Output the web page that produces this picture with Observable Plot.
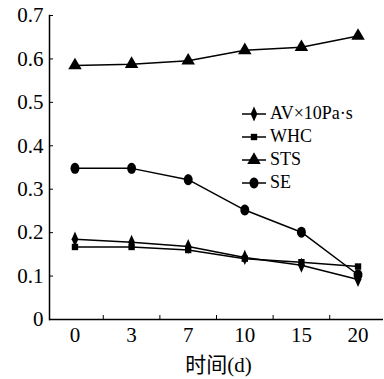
<!DOCTYPE html>
<html>
<head>
<meta charset="utf-8">
<script src="https://cdn.jsdelivr.net/npm/d3@7"></script>
<script src="https://cdn.jsdelivr.net/npm/@observablehq/plot@0.6"></script>
<style>
  html, body { margin: 0; padding: 0; background: #fff; }
  #wrap { position: relative; width: 384px; height: 379px; font-family: "Liberation Serif", "Times New Roman", Tinos, "DejaVu Serif", serif; }
  #legend { position: absolute; left: 242px; top: 102px; font-size: 18px; color: #000; }
  .row { display: flex; align-items: center; height: 23px; }
  .row svg { width: 24px; height: 20px; margin-right: 4px; overflow: visible; }
</style>
</head>
<body>
<div id="wrap"></div>
<script>
const days = ["0", "3", "7", "10", "15", "20"];
const seriesNames = ["AV×10Pa·s", "WHC", "STS", "SE"];
const xTitle = "时间(d)";
const av  = [0.185, 0.178, 0.168, 0.143, 0.125, 0.092];
const whc = [0.167, 0.167, 0.160, 0.140, 0.132, 0.122];
const sts = [0.585, 0.588, 0.596, 0.620, 0.627, 0.653];
const se  = [0.348, 0.348, 0.322, 0.252, 0.201, 0.103];
const yTicks = [0, 0.1, 0.2, 0.3, 0.4, 0.5, 0.6, 0.7];

const serif = "'Liberation Serif', 'Times New Roman', Tinos, 'DejaVu Serif'";
const titleFont = "'Liberation Serif', 'Times New Roman', 'Noto Sans CJK SC'";

const tallDiamond = {
  draw(ctx, size) {
    const s = Math.sqrt(size);
    const w = s * 0.38, h = s * 0.85;
    ctx.moveTo(0, -h); ctx.lineTo(w, 0); ctx.lineTo(0, h); ctx.lineTo(-w, 0); ctx.closePath();
  }
};
const tallCircle = {
  draw(ctx, size) {
    const s = Math.sqrt(size);
    const rx = s * 0.5, ry = s * 0.62;
    const n = 24;
    for (let i = 0; i <= n; i++) {
      const a = (i / n) * 2 * Math.PI;
      const x = rx * Math.cos(a), y = ry * Math.sin(a);
      if (i === 0) ctx.moveTo(x, y); else ctx.lineTo(x, y);
    }
    ctx.closePath();
  }
};
const symbols = [tallDiamond, "square", "triangle", tallCircle];
const radii = [5, 3.6, 5, 5];
const values = [av, whc, sts, se];

const rows = [];
values.forEach((arr, s) => arr.forEach((v, i) => rows.push({series: seriesNames[s], s, i, v})));

const marks = [
  Plot.ruleY([0], {stroke: "#000", strokeWidth: 1.5}),
  Plot.frame({anchor: "left", stroke: "#000", strokeWidth: 1.5}),
  Plot.axisY({ticks: yTicks, tickSize: 0, tickPadding: 6, tickFormat: d => d === 0 ? "0" : d3.format(".1f")(d), fontSize: 21, fontFamily: serif, label: null}),
  Plot.axisY({ticks: yTicks, tickSize: -4, tickFormat: () => "", label: null}),
  Plot.axisX({ticks: d3.range(days.length), tickSize: 0, tickPadding: 8, tickFormat: i => days[i], fontSize: 21, fontFamily: serif, label: null}),
  Plot.axisX({ticks: d3.range(days.length - 1).map(i => i + 0.5), tickSize: -4, tickFormat: () => "", label: null}),
  Plot.text([xTitle], {text: d => d, frameAnchor: "bottom", dx: 2, dy: 52, fontSize: 21, fontFamily: titleFont, fill: "#000"}),
  Plot.line(rows, {x: "i", y: "v", z: "series", stroke: "#000", strokeWidth: 1.5})
];
values.forEach((arr, s) => {
  marks.push(Plot.dot(arr.map((v, i) => ({i, v})), {x: "i", y: "v", symbol: () => symbols[s], r: radii[s], fill: "#000", stroke: "none"}));
});

const chart = Plot.plot({
  width: 384,
  height: 379,
  marginLeft: 49,
  marginRight: 1,
  marginTop: 15,
  marginBottom: 60,
  style: {fontFamily: serif, fontSize: "18px", color: "#000", background: "#fff"},
  x: {type: "linear", domain: [-0.45, days.length - 1 + 0.45], axis: null},
  y: {domain: [0, 0.7], axis: null},
  symbol: {type: "identity"},
  marks
});
const wrap = document.getElementById("wrap");
wrap.appendChild(chart);

// legend
const legend = document.createElement("div");
legend.id = "legend";
seriesNames.forEach((name, s) => {
  const row = document.createElement("div");
  row.className = "row";
  const svg = d3.create("svg").attr("viewBox", "-12 -10 24 20");
  svg.append("line").attr("x1", -12).attr("x2", 12).attr("y1", 0).attr("y2", 0).attr("stroke", "#000").attr("stroke-width", 1.5);
  const sym = symbols[s];
  const type = typeof sym === "string" ? {square: d3.symbolSquare, triangle: d3.symbolTriangle}[sym] : sym;
  svg.append("path").attr("d", d3.symbol(type, radii[s] * radii[s] * Math.PI)()).attr("fill", "#000");
  row.appendChild(svg.node());
  const t = document.createElement("span");
  t.textContent = name;
  row.appendChild(t);
  legend.appendChild(row);
});
wrap.appendChild(legend);
</script>
</body>
</html>
